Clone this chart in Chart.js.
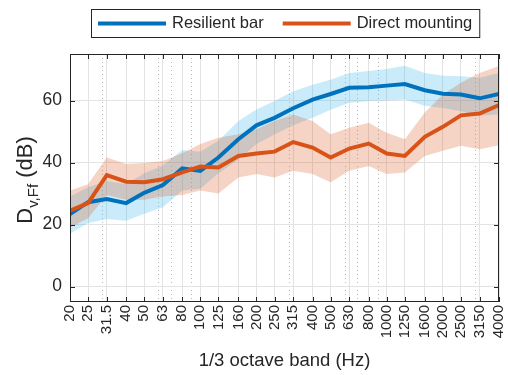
<!DOCTYPE html>
<html>
<head>
<meta charset="utf-8">
<script src="https://cdn.jsdelivr.net/npm/chart.js@4.4.1/dist/chart.umd.min.js"></script>
<style>
  html, body { margin: 0; padding: 0; background: #fff; }
</style>
</head>
<body>
<canvas id="dvffChart" width="508" height="375"></canvas>
<script>
// 1/3 octave band centre frequencies
var bands = [20, 25, 31.5, 40, 50, 63, 80, 100, 125, 160, 200, 250, 315, 400, 500, 630, 800, 1000, 1250, 1600, 2000, 2500, 3150, 4000];
var bandLabels = ["20", "25", "31.5", "40", "50", "63", "80", "100", "125", "160", "200", "250", "315", "400", "500", "630", "800", "1000", "1250", "1600", "2000", "2500", "3150", "4000"];
var minorFreqs = [30, 60, 70, 90, 300, 600, 700, 900, 3000];
var yTicks = [0, 20, 40, 60];

// Resilient bar: mean and spread
var resilientMean = [23.4, 27.2, 28.2, 26.9, 30.2, 32.7, 38.1, 37.3, 41.6, 47.5, 52.0, 54.4, 57.5, 60.3, 62.1, 64.1, 64.3, 64.8, 65.3, 63.3, 62.2, 61.9, 60.7, 62.1];
var resilientLow = [17, 20.5, 21.8, 21.2, 23.5, 25.6, 31, 31.5, 36.5, 41, 46, 49, 52, 54.4, 57, 59.3, 59.8, 60, 60.3, 58.3, 57.6, 56.5, 55.2, 55.5];
var resilientHigh = [29, 32, 34, 33, 36.5, 39, 44, 43.5, 47, 53.4, 57.1, 59.8, 63, 65.1, 66.7, 68.9, 69.5, 70.2, 71.2, 68.9, 68, 67.8, 67.3, 68.9];

// Direct mounting: mean and spread
var directMean = [24.5, 26.9, 35.9, 33.8, 33.6, 34.6, 36.8, 38.7, 38.4, 42.1, 42.9, 43.5, 46.6, 44.8, 41.6, 44.5, 46.1, 42.9, 42.1, 48.3, 51.5, 55.2, 55.8, 58.5];
var directLow = [19, 22, 29.5, 28, 28, 29, 29.5, 31, 30, 35.2, 36.3, 35.2, 37.3, 36.3, 33.6, 37.3, 38.9, 36.3, 36.8, 42.1, 43.8, 45.4, 44.3, 45.6];
var directHigh = [31, 33, 41.6, 39.5, 39.8, 40.5, 43, 46, 48, 49.1, 50.7, 53.4, 55.5, 53.4, 49.1, 51.2, 52.8, 49.6, 47.5, 56.1, 61.9, 65.7, 68.9, 71.1];

var FONT = "'Liberation Sans', Arial, sans-serif";
var INK = "#262626";
var BLUE = "#0072BD";
var ORANGE = "#D95319";

function pts(vals) {
    return bands.map(function (f, i) { return { x: f, y: vals[i] }; });
}

function band(vals, color, fillTo, order) {
    return {
        label: "",
        data: pts(vals),
        borderWidth: 0,
        pointRadius: 0,
        tension: 0,
        backgroundColor: color,
        fill: fillTo,
        order: order
    };
}

// box around the plot with inward ticks on all four sides
var frame = {
    id: "frame",
    afterDraw: function (chart) {
        var ctx = chart.ctx, ca = chart.chartArea;
        var xs = chart.scales.x, ys = chart.scales.y;
        ctx.save();
        ctx.strokeStyle = INK;
        ctx.lineWidth = 1;
        ctx.strokeRect(Math.round(ca.left) + 0.5, Math.round(ca.top) + 0.5,
            Math.round(ca.right - ca.left) - 1, Math.round(ca.bottom - ca.top) - 1);
        ctx.beginPath();
        xs.ticks.forEach(function (t) {
            var px = Math.round(xs.getPixelForValue(t.value)) + 0.5;
            ctx.moveTo(px, ca.bottom); ctx.lineTo(px, ca.bottom - 5);
            ctx.moveTo(px, ca.top); ctx.lineTo(px, ca.top + 5);
        });
        ys.ticks.forEach(function (t) {
            var py = Math.round(ys.getPixelForValue(t.value)) + 0.5;
            ctx.moveTo(ca.left, py); ctx.lineTo(ca.left + 5, py);
            ctx.moveTo(ca.right, py); ctx.lineTo(ca.right - 5, py);
        });
        ctx.stroke();
        ctx.restore();
    }
};

// y title with subscript: D_{v,Ff} (dB)
var yTitle = {
    id: "yTitle",
    afterDraw: function (chart) {
        var ctx = chart.ctx, ca = chart.chartArea;
        var big = "22px " + FONT, small = "15px " + FONT;
        ctx.save();
        ctx.fillStyle = INK;
        ctx.font = big;
        var wD = ctx.measureText("D").width;
        var wRest = ctx.measureText(" (dB)").width;
        ctx.font = small;
        var wSub = ctx.measureText("v,Ff").width;
        var total = wD + wSub + wRest;
        ctx.translate(32, (ca.top + ca.bottom) / 2 + 2);
        ctx.rotate(-Math.PI / 2);
        ctx.textBaseline = "alphabetic";
        ctx.textAlign = "left";
        var x0 = -total / 2;
        ctx.font = big;
        ctx.fillText("D", x0, 0);
        ctx.font = small;
        ctx.fillText("v,Ff", x0 + wD, 6);
        ctx.font = big;
        ctx.fillText(" (dB)", x0 + wD + wSub, 0);
        ctx.restore();
    }
};

// boxed legend above the plot, line samples only
var boxLegend = {
    id: "boxLegend",
    afterDraw: function (chart) {
        var ctx = chart.ctx;
        var items = chart.data.datasets.filter(function (d) { return d.label; });
        var lineLen = 68, gap = 6, itemGap = 19, padX = 7;
        ctx.save();
        ctx.font = "16.5px " + FONT;
        var widths = items.map(function (d) { return ctx.measureText(d.label).width; });
        var total = padX * 2 + itemGap * (items.length - 1);
        widths.forEach(function (w) { total += lineLen + gap + w; });
        var left = Math.round(285.5 - total / 2), top = 9, h = 28;
        ctx.fillStyle = "#fff";
        ctx.fillRect(left, top, total, h);
        ctx.strokeStyle = INK;
        ctx.lineWidth = 1;
        ctx.strokeRect(left + 0.5, top + 0.5, total, h);
        var x = left + padX, cy = top + h / 2 + 0.5;
        items.forEach(function (d, i) {
            ctx.strokeStyle = d.borderColor;
            ctx.lineWidth = 4;
            ctx.beginPath();
            ctx.moveTo(x, cy); ctx.lineTo(x + lineLen, cy);
            ctx.stroke();
            ctx.fillStyle = INK;
            ctx.textBaseline = "middle";
            ctx.fillText(d.label, x + lineLen + gap, cy);
            x += lineLen + gap + widths[i] + itemGap;
        });
        ctx.restore();
    }
};

var ctx = document.getElementById("dvffChart");

var myChart = new Chart(ctx, {
    type: "line",
    data: {
        datasets: [
            band(resilientLow, "rgba(77,190,238,0.3)", false, 5),
            band(resilientHigh, "rgba(77,190,238,0.3)", 0, 4),
            band(directLow, "rgba(217,83,25,0.25)", false, 3),
            band(directHigh, "rgba(217,83,25,0.25)", 2, 2),
            {
                label: "Resilient bar",
                data: pts(resilientMean),
                borderColor: BLUE,
                borderWidth: 4,
                pointRadius: 0,
                tension: 0,
                fill: false,
                order: 1
            },
            {
                label: "Direct mounting",
                data: pts(directMean),
                borderColor: ORANGE,
                borderWidth: 4,
                pointRadius: 0,
                tension: 0,
                fill: false,
                order: 0
            }
        ]
    },
    options: {
        responsive: false,
        animation: false,
        layout: { padding: { top: 54, right: 9, left: 0, bottom: 0 } },
        plugins: {
            legend: { display: false },
            tooltip: { enabled: false },
            filler: { drawTime: "beforeDatasetsDraw" }
        },
        scales: {
            x: {
                type: "logarithmic",
                position: "bottom",
                min: 20,
                max: 4000,
                afterBuildTicks: function (s) { s.ticks = bands.map(function (v) { return { value: v }; }); },
                afterFit: function (s) {
                    s.height = 73;
                    s.paddingLeft = 0;
                    s.paddingRight = 0;
                },
                ticks: {
                    autoSkip: false,
                    minRotation: 90,
                    maxRotation: 90,
                    padding: 3,
                    color: INK,
                    font: { family: FONT, size: 15 },
                    callback: function (v, i) { return bandLabels[i]; }
                },
                grid: { color: "#e3e3e3", lineWidth: 1, drawTicks: false },
                border: { display: false },
                title: {
                    display: true,
                    text: "1/3 octave band (Hz)",
                    color: INK,
                    font: { family: FONT, size: 18.5 },
                    padding: { top: 0, bottom: 3 }
                }
            },
            xMinor: {
                type: "logarithmic",
                position: "top",
                min: 20,
                max: 4000,
                afterBuildTicks: function (s) { s.ticks = minorFreqs.map(function (v) { return { value: v }; }); },
                afterFit: function (s) {
                    s.height = 0;
                    s.paddingLeft = 0;
                    s.paddingRight = 0;
                },
                ticks: { display: false },
                grid: { color: "#b8b8b8", lineWidth: 1, drawTicks: false },
                border: { display: false, dash: [1, 3] }
            },
            y: {
                min: -5,
                max: 75,
                afterBuildTicks: function (s) { s.ticks = yTicks.map(function (v) { return { value: v }; }); },
                afterFit: function (s) { s.width = 70; },
                ticks: {
                    padding: 8,
                    color: INK,
                    font: { family: FONT, size: 17.5 }
                },
                grid: { color: "#e3e3e3", lineWidth: 1, drawTicks: false },
                border: { display: false }
            }
        }
    },
    plugins: [frame, yTitle, boxLegend]
});
</script>
</body>
</html>
